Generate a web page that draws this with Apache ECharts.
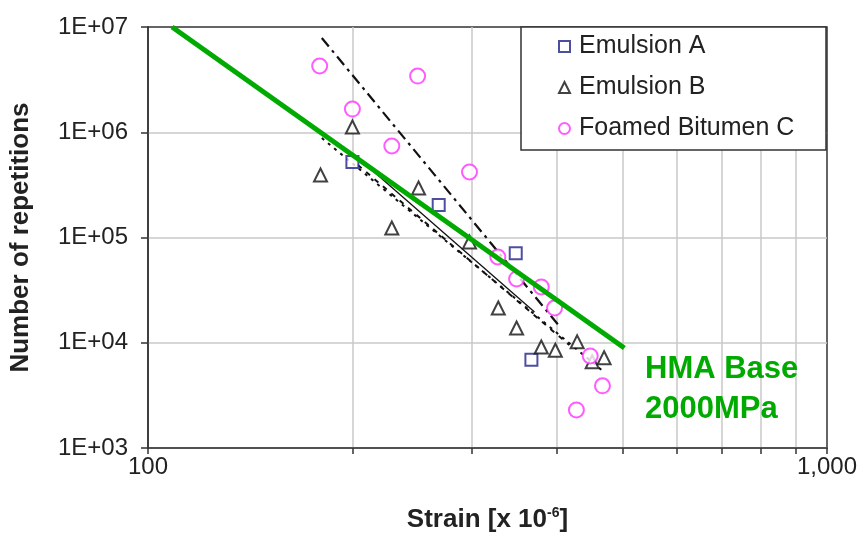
<!DOCTYPE html>
<html>
<head>
<meta charset="utf-8">
<script src="https://cdn.jsdelivr.net/npm/echarts@6/dist/echarts.min.js"></script>
<style>
  html, body { margin: 0; padding: 0; background: #fff; }
  #chart { width: 861px; height: 533px; }
</style>
</head>
<body>
<div id="chart"></div>
<script>
// values (strain in 1e-6, repetitions)
var seriesNames = ['Emulsion A', 'Emulsion B', 'Foamed Bitumen C'];
var emulsionA = [[200, 521000], [268, 204000], [348, 71000], [367, 6900]];
var emulsionB = [[179.5, 393000], [200, 1120000], [228.6, 123000], [250.3, 295000], [297.5, 90600],
  [328, 21400], [349, 13800], [379.5, 9100], [398, 8500], [428.6, 10200], [451, 6600], [469.6, 7200]];
var foamedC = [[179, 4260000], [200, 1660000], [249.5, 3420000], [228.6, 740000], [297.5, 419000],
  [327.5, 65300], [349, 40400], [379.5, 33900], [397, 21400], [448, 7500], [467, 3900], [427.5, 2300]];

// fitted lines
var hmaBase = [[108.5, 10000000], [503, 8900]];
var fitDashDot = [[180.3, 7860000], [403, 14500]];
var fitDotted = [[180.3, 881000], [469.6, 5270]];
var fitSolid = [[200, 635000], [370.9, 19600]];
var fitDashed = [[203.7, 489000], [417.4, 9500]];

var xTicks = [100, 200, 300, 400, 500, 600, 700, 800, 900, 1000];
var xLabels = [100, 1000];

var FONT = 'Liberation Sans, Arial, sans-serif';
var GREEN = '#00aa00';

function fitLine(data, type, width) {
  return {
    type: 'line',
    data: data,
    symbol: 'none',
    silent: true,
    z: 2,
    lineStyle: { color: '#111', width: width, type: type }
  };
}

var chart = echarts.init(document.getElementById('chart'));

var option = {
  animation: false,
  backgroundColor: '#fff',
  grid: {
    left: 148, right: 34, top: 27, bottom: 85,
    show: true, borderColor: '#333', borderWidth: 1.5,
    outerBoundsMode: 'none'
  },
  legend: {
    data: seriesNames,
    orient: 'vertical',
    left: 558,
    top: 34,
    padding: 0,
    itemWidth: 11,
    itemHeight: 11,
    itemGap: 16,
    z: 5,
    textStyle: { fontFamily: FONT, fontSize: 25, color: '#222', padding: [0, 0, 0, 4] }
  },
  xAxis: {
    type: 'log',
    logBase: 10,
    min: 100,
    max: 1000,
    name: '{a|Strain [x 10}{s|-6}{a|]}',
    nameLocation: 'middle',
    nameGap: 58,
    nameTextStyle: {
      rich: {
        a: { fontFamily: FONT, fontSize: 26, fontWeight: 'bold', color: '#222', lineHeight: 28 },
        s: { fontFamily: FONT, fontSize: 14, fontWeight: 'bold', color: '#222', verticalAlign: 'top', lineHeight: 28 }
      }
    },
    axisLine: { lineStyle: { color: '#333', width: 1.5 } },
    axisTick: { show: true, inside: false, length: 6, customValues: xTicks, lineStyle: { color: '#333', width: 1.5 } },
    axisLabel: {
      customValues: xLabels,
      margin: 7,
      fontFamily: FONT,
      fontSize: 24,
      color: '#222',
      formatter: function (v) { return v >= 1000 ? '1,000' : String(v); }
    },
    splitLine: { show: true, showMinLine: false, showMaxLine: false, lineStyle: { color: '#c8c8c8', width: 1.5 } }
  },
  yAxis: {
    type: 'log',
    logBase: 10,
    min: 1000,
    max: 10000000,
    name: 'Number of repetitions',
    nameLocation: 'middle',
    nameRotate: 90,
    nameGap: 114,
    nameTextStyle: { fontFamily: FONT, fontSize: 26, fontWeight: 'bold', color: '#222' },
    axisLine: { show: true, lineStyle: { color: '#333', width: 1.5 } },
    axisTick: { show: true, inside: false, length: 7, lineStyle: { color: '#333', width: 1.5 } },
    axisLabel: {
      margin: 20,
      fontFamily: FONT,
      fontSize: 24,
      color: '#222',
      formatter: function (v) {
        var p = Math.round(Math.log10(v));
        return '1E+' + (p < 10 ? '0' : '') + p;
      }
    },
    splitLine: { show: true, showMinLine: false, showMaxLine: false, lineStyle: { color: '#c8c8c8', width: 1.5 } }
  },
  graphic: [
    {
      type: 'rect',
      z: 4,
      shape: { x: 521, y: 27, width: 305, height: 123 },
      style: { fill: '#fff', stroke: '#333', lineWidth: 1.5 }
    },
    {
      type: 'text',
      z: 5,
      left: 645,
      top: 349,
      style: {
        text: 'HMA Base\n2000MPa',
        fill: GREEN,
        font: 'bold 31px ' + FONT,
        lineHeight: 40
      }
    }
  ],
  series: [
    fitLine(fitDashDot, [11, 5, 3, 5], 2.2),
    fitLine(fitDotted, [3, 5], 2),
    fitLine(fitSolid, 'solid', 1.3),
    fitLine(fitDashed, [5, 6], 2),
    {
      name: seriesNames[0],
      type: 'scatter',
      data: emulsionA,
      symbol: 'rect',
      symbolSize: 12,
      z: 3,
      itemStyle: { color: '#fff', borderColor: '#22228a', borderWidth: 2 }
    },
    {
      name: seriesNames[1],
      type: 'scatter',
      data: emulsionB,
      symbol: 'triangle',
      symbolSize: 13,
      z: 3,
      itemStyle: { color: '#fff', borderColor: '#111', borderWidth: 2 }
    },
    {
      name: seriesNames[2],
      type: 'scatter',
      data: foamedC,
      symbol: 'circle',
      symbolSize: 15,
      z: 3,
      itemStyle: { color: '#fff', borderColor: '#ff33ff', borderWidth: 2 }
    },
    {
      type: 'line',
      data: hmaBase,
      symbol: 'none',
      silent: true,
      z: 4,
      lineStyle: { color: GREEN, width: 5 }
    }
  ]
};

chart.setOption(option);
</script>
</body>
</html>
